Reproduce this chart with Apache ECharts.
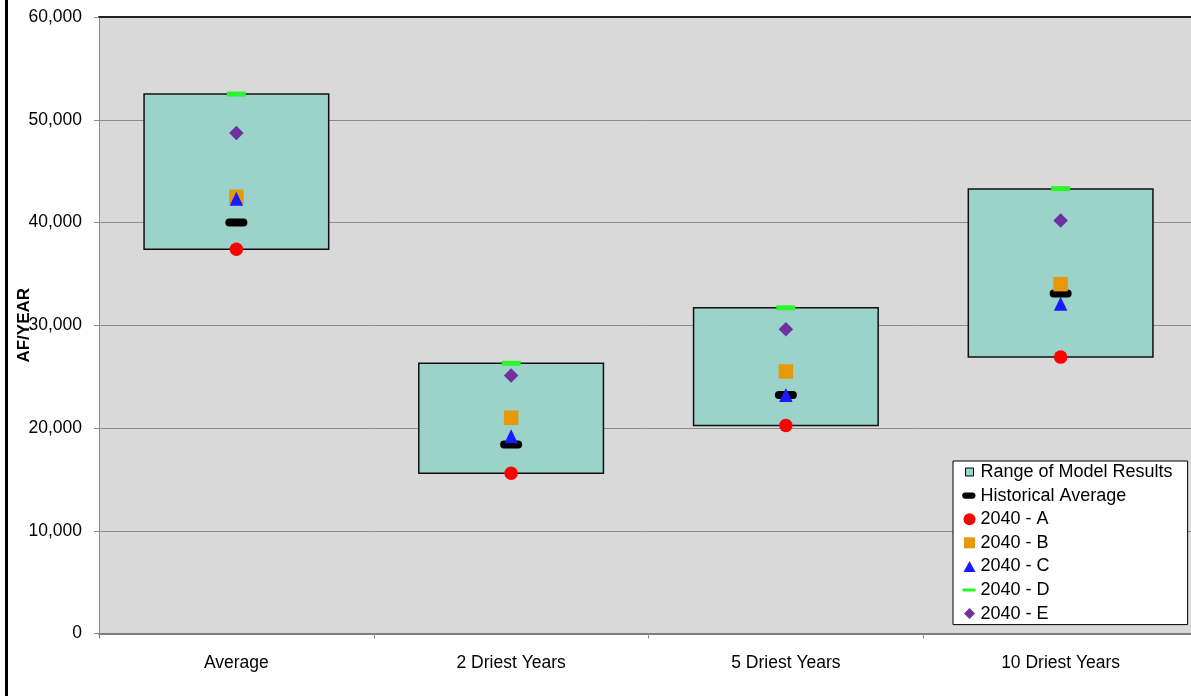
<!DOCTYPE html>
<html>
<head>
<meta charset="utf-8">
<script src="https://cdn.jsdelivr.net/npm/echarts@6/dist/echarts.min.js"></script>
<style>
html,body{margin:0;padding:0;background:#fff;}
#chart{width:1191px;height:696px;}
</style>
</head>
<body>
<div id="chart"></div>
<script>
const categories = ['Average', '2 Driest Years', '5 Driest Years', '10 Driest Years'];
const rangeLow  = [37400, 15600, 20250, 26900];
const rangeHigh = [52500, 26300, 31700, 43250];
const historical = [40000, 18400, 23200, 33100];
const s2040A = [37400, 15600, 20250, 26900];
const s2040B = [42500, 21000, 25500, 34000];
const s2040C = [42300, 19200, 23200, 32100];
const s2040D = [52500, 26300, 31700, 43300];
const s2040E = [48700, 25100, 29600, 40200];
const yTicks = { min: 0, max: 60000, interval: 10000 };

const FONT = '"Liberation Sans", Arial, sans-serif';
const chart = echarts.init(document.getElementById('chart'), null, { renderer: 'canvas' });

const rangeData = categories.map((c, i) => [i, rangeLow[i], rangeHigh[i]]);

const option = {
  animation: false,
  backgroundColor: '#ffffff',
  textStyle: { fontFamily: FONT },
  grid: {
    left: 99, top: 17, right: -7, bottom: 62.5,
    outerBoundsMode: 'none', containLabel: false,
    show: true, backgroundColor: '#d9d9d9', borderWidth: 0
  },
  graphic: [
    { type: 'rect', left: 5, top: 0, shape: { width: 3, height: 696 }, style: { fill: '#000' }, silent: true }
  ],
  legend: {
    orient: 'vertical',
    left: 953,
    top: 461,
    backgroundColor: '#ffffff',
    borderColor: '#000000',
    borderWidth: 1,
    padding: [1, 15, 1, 6],
    itemWidth: 16,
    itemHeight: 12,
    itemGap: 3.6,
    textStyle: { fontSize: 18, lineHeight: 20, color: '#000', fontFamily: FONT },
    data: [
      { name: 'Range of Model Results', icon: 'path://M0,0M16,12M6,2h8v8h-8z', itemStyle: { borderColor: '#000', borderWidth: 1 } },
      { name: 'Historical Average', icon: 'path://M0,0M16,12M6.5,2.5h8a3.5,3.5 0 0 1 0,7h-8a3.5,3.5 0 0 1 0,-7z' },
      { name: '2040 - A', icon: 'path://M0,0M16,12M10,0a6,6 0 1 1 0,12a6,6 0 1 1 0,-12z' },
      { name: '2040 - B', icon: 'path://M0,0M16,12M4.5,0.5h11v11h-11z' },
      { name: '2040 - C', icon: 'path://M0,0M16,12M10,0.5L16,11.5L4,11.5z' },
      { name: '2040 - D', icon: 'path://M0,0M16,12M3,4.5h13v3h-13z' },
      { name: '2040 - E', icon: 'path://M0,0M16,12M10,0.5L15.5,6L10,11.5L4.5,6z' }
    ]
  },
  xAxis: [
    {
      type: 'category',
      data: categories,
      position: 'bottom',
      axisLine: { lineStyle: { color: '#7f7f7f', width: 2 } },
      axisTick: { show: true, length: 5, lineStyle: { color: '#8c8c8c' } },
      axisLabel: { fontSize: 17.5, color: '#000', margin: 21, fontFamily: FONT },
      splitLine: { show: false }
    },
    {
      type: 'category',
      data: categories,
      position: 'top',
      axisLine: { lineStyle: { color: '#222', width: 2 } },
      axisTick: { show: false },
      axisLabel: { show: false },
      splitLine: { show: false }
    }
  ],
  yAxis: {
    type: 'value',
    min: yTicks.min,
    max: yTicks.max,
    interval: yTicks.interval,
    name: 'AF/YEAR',
    nameLocation: 'middle',
    nameRotate: 90,
    nameGap: 66,
    nameMoveOverlap: false,
    nameTextStyle: { fontSize: 17, fontWeight: 'bold', color: '#000', fontFamily: FONT },
    axisLine: { show: true, lineStyle: { color: '#8c8c8c', width: 1 } },
    axisTick: { show: true, length: 5, lineStyle: { color: '#8c8c8c' } },
    axisLabel: { fontSize: 17.5, color: '#000', margin: 17, fontFamily: FONT },
    splitLine: { show: true, lineStyle: { color: '#8c8c8c', width: 1 } }
  },
  series: [
    {
      name: 'Range of Model Results',
      type: 'custom',
      data: rangeData,
      encode: { x: 0, y: [1, 2] },
      itemStyle: { color: '#9bd3ca', borderColor: '#000', borderWidth: 1, opacity: 1 },
      z: 1,
      renderItem: function (params, api) {
        const x = api.value(0);
        const lo = api.coord([x, api.value(1)]);
        const hi = api.coord([x, api.value(2)]);
        const w = api.size([1, 0])[0] * 0.672;
        return {
          type: 'rect',
          shape: { x: lo[0] - w / 2, y: hi[1], width: w, height: lo[1] - hi[1] },
          style: { fill: '#9bd3ca', stroke: '#111', lineWidth: 1.5 }
        };
      }
    },
    {
      name: 'Historical Average', type: 'scatter', data: historical, z: 3,
      symbol: 'path://M4,0h14a4,4 0 0 1 0,8h-14a4,4 0 0 1 0,-8z', symbolSize: [22, 8],
      itemStyle: { color: '#000000', opacity: 1 }
    },
    {
      name: '2040 - A', type: 'scatter', data: s2040A, z: 4,
      symbol: 'circle', symbolSize: 13.5, itemStyle: { color: '#ff0000', opacity: 1 }
    },
    {
      name: '2040 - B', type: 'scatter', data: s2040B, z: 3,
      symbol: 'rect', symbolSize: 14.5, itemStyle: { color: '#e5990a', opacity: 1 }
    },
    {
      name: '2040 - C', type: 'scatter', data: s2040C, z: 5,
      symbol: 'triangle', symbolSize: [13.5, 14], itemStyle: { color: '#1a1aff', opacity: 1 }
    },
    {
      name: '2040 - D', type: 'scatter', data: s2040D, z: 5,
      symbol: 'rect', symbolSize: [19, 5], itemStyle: { color: '#2cf52c', opacity: 1 }
    },
    {
      name: '2040 - E', type: 'scatter', data: s2040E, z: 5,
      symbol: 'diamond', symbolSize: [14.5, 14.5], itemStyle: { color: '#7030a0', opacity: 1 }
    }
  ]
};
chart.setOption(option);
</script>
</body>
</html>
